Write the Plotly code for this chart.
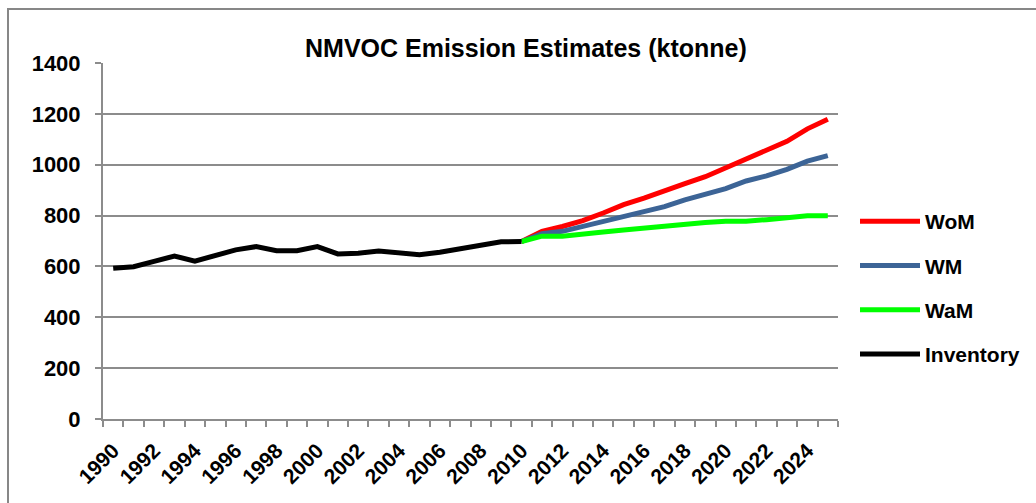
import plotly.graph_objects as go

# Annual NMVOC emissions (ktonne): historic inventory and three projection scenarios
inventory_years = list(range(1990, 2011))
inventory = [593, 599, 620, 641, 621, 645, 665, 678, 662, 662, 678,
             649, 652, 661, 654, 646, 656, 671, 684, 697, 698]

projection_years = list(range(2010, 2026))
wom = [698, 738, 757, 780, 810, 843, 869, 895, 926, 953, 988,
       1021, 1057, 1092, 1141, 1179]
wm = [698, 729, 738, 757, 774, 797, 813, 835, 862, 884, 906,
      936, 956, 982, 1014, 1036]
wam = [698, 719, 719, 729, 735, 743, 751, 758, 766, 773, 778,
       778, 784, 791, 799, 799]

series = [
    ("WoM", projection_years, wom, "#ff0000"),
    ("WM", projection_years, wm, "#3c6496"),
    ("WaM", projection_years, wam, "#00ff00"),
    ("Inventory", inventory_years, inventory, "#000000"),
]

FONT = "Liberation Sans, Arial, sans-serif"
GRID = "#8c8c8c"

fig = go.Figure()
for name, xs, ys, color in series:
    fig.add_trace(go.Scatter(
        x=xs, y=ys, name=name, mode="lines",
        legendgroup=name,
        line=dict(color=color, width=5),
    ))

W, H = 1036, 503
ML, MR, MT, MB = 103, 198, 63, 84
pw, ph = W - ML - MR, H - MT - MB

def px_x(x):
    return (x - ML) / pw

def px_y(y):
    return (H - MB - y) / ph

fig.update_layout(
    width=W, height=H,
    margin=dict(l=ML, r=MR, t=MT, b=MB, autoexpand=False),
    paper_bgcolor="white", plot_bgcolor="white",
    font=dict(family=FONT, color="black"),
    showlegend=True,
    legend=dict(
        x=px_x(855), xanchor="left",
        y=px_y(201), yanchor="top",
        font=dict(size=21, family=FONT, color="black", weight="bold"),
        traceorder="grouped", tracegroupgap=14,
        itemwidth=60,
        bgcolor="rgba(0,0,0,0)",
    ),
    xaxis=dict(
        range=[1989.5, 2025.5],
        tickmode="linear", tick0=1990, dtick=2,
        ticks="", tickangle=-45,
        ticklabelstandoff=9,
        tickfont=dict(size=21, family=FONT, weight="bold"),
        showgrid=False, zeroline=False,
        showline=True, linecolor=GRID, linewidth=2,
        minor=dict(tickmode="linear", tick0=1989.5, dtick=1,
                   ticks="outside", ticklen=6, tickcolor=GRID,
                   tickwidth=1.5, showgrid=False),
    ),
    yaxis=dict(
        range=[0, 1400],
        tickmode="linear", tick0=0, dtick=200,
        ticks="outside", ticklen=6, tickcolor=GRID, tickwidth=1.5,
        ticklabelstandoff=10,
        tickfont=dict(size=22, family=FONT, weight="bold"),
        showgrid=True, gridcolor=GRID, gridwidth=2,
        zeroline=False,
        showline=True, linecolor=GRID, linewidth=2,
    ),
    annotations=[dict(
        text="NMVOC Emission Estimates (ktonne)",
        xref="paper", yref="paper",
        x=px_x(526), y=px_y(48),
        xanchor="center", yanchor="middle",
        showarrow=False,
        font=dict(size=25, family=FONT, color="black", weight="bold"),
    )],
    shapes=[dict(
        type="rect", xref="paper", yref="paper",
        x0=px_x(8), x1=px_x(1045), y0=px_y(515), y1=px_y(9),
        line=dict(color="#878787", width=2), fillcolor="rgba(0,0,0,0)",
        layer="below",
    )],
)

fig.write_html("out.html")
